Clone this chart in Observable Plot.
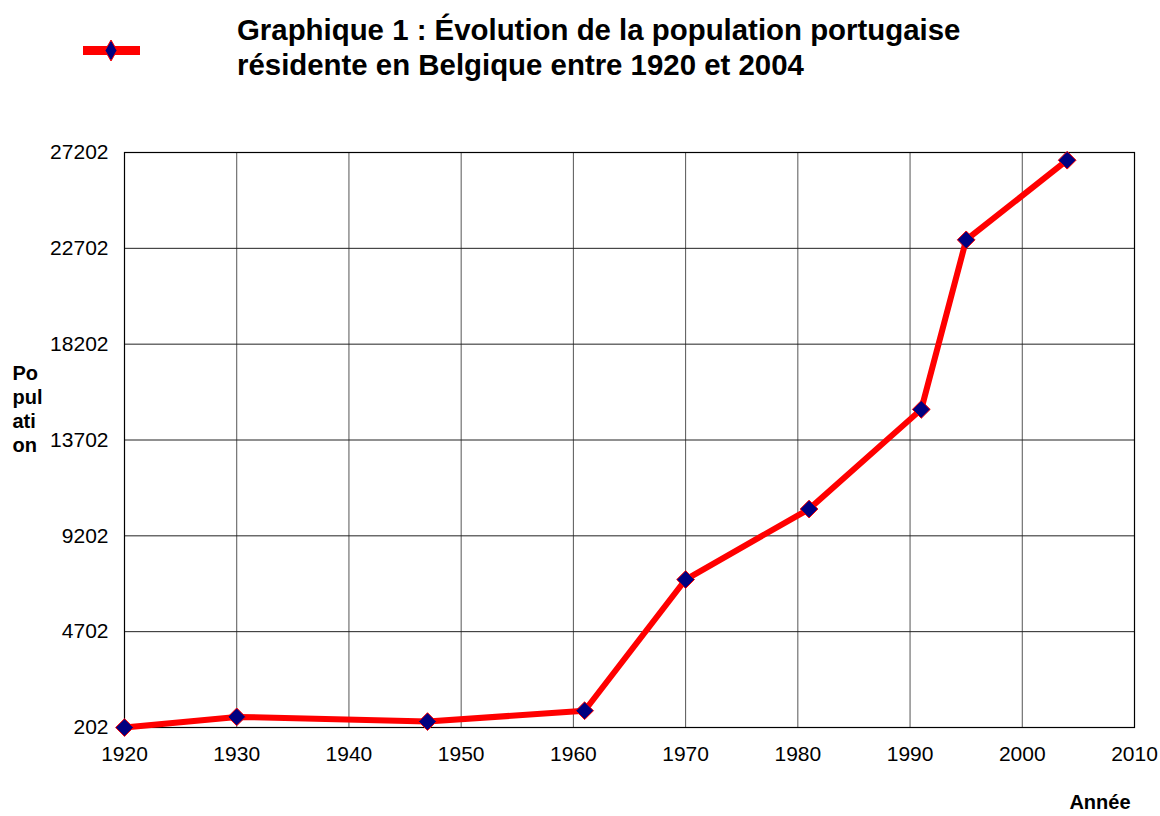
<!DOCTYPE html>
<html>
<head>
<meta charset="utf-8">
<script src="https://cdn.jsdelivr.net/npm/d3@7"></script>
<script src="https://cdn.jsdelivr.net/npm/@observablehq/plot@0.6"></script>
<style>
  html, body { margin: 0; padding: 0; background: #fff; }
  body { width: 1160px; height: 816px; overflow: hidden; font-family: "Liberation Sans", Arial, sans-serif; }
  #header { position: relative; width: 1160px; height: 100px; }
  #title { position: absolute; left: 237px; top: 12px; font-weight: bold; font-size: 29.4px; line-height: 35px; color: #000; white-space: nowrap; }
  #legend { position: absolute; left: 80px; top: 34px; }
</style>
</head>
<body>
<div id="header">
  <svg id="legend" width="64" height="34" viewBox="0 0 64 34">
    <rect x="3" y="12" width="57" height="9" fill="#ff0000"></rect>
    <path d="M31,6 L37,16.5 L31,27 L25,16.5 Z" fill="#000080" stroke="#ff0000" stroke-width="1"></path>
  </svg>
  <div id="title">Graphique 1 : Évolution de la population portugaise<br>résidente en Belgique entre 1920 et 2004</div>
</div>
<div id="chart"></div>
<script>
const years = [1920, 1930, 1947, 1961, 1970, 1981, 1991, 1995, 2004];
const population = [200, 700, 480, 990, 7150, 10460, 15140, 23100, 26840];
const yTicks = [202, 4702, 9202, 13702, 18202, 22702, 27202];
const xTicks = [1920, 1930, 1940, 1950, 1960, 1970, 1980, 1990, 2000, 2010];
const yLabel = "Po\npul\nati\non";
const xLabel = "Année";

const data = years.map((y, i) => ({year: y, pop: population[i]}));

const chart = Plot.plot({
  width: 1160,
  height: 716,
  marginTop: 52,
  marginLeft: 124,
  marginRight: 26,
  marginBottom: 89,
  style: {fontFamily: "'Liberation Sans', Arial, sans-serif", fontSize: "21px", color: "#000", background: "#fff"},
  x: {domain: [1920, 2010], ticks: xTicks, tickFormat: d => String(d)},
  y: {domain: [202, 27202], ticks: yTicks, tickFormat: d => String(d)},
  marks: [
    Plot.gridX(xTicks, {stroke: "#555", strokeOpacity: 1, strokeWidth: 1}),
    Plot.gridY(yTicks, {stroke: "#222", strokeOpacity: 1, strokeWidth: 1}),
    Plot.frame({stroke: "#000", strokeWidth: 1.2}),
    Plot.axisX(xTicks, {tickSize: 0, tickPadding: 19, label: null, fontSize: 21, tickFormat: d => String(d)}),
    Plot.axisY(yTicks, {tickSize: 0, tickPadding: 16, label: null, fontSize: 21, tickFormat: d => String(d)}),
    Plot.line(data, {x: "year", y: "pop", stroke: "#ff0000", strokeWidth: 6, strokeLinejoin: "miter"}),
    Plot.dot(data, {x: "year", y: "pop", symbol: "diamond2", r: 8, fill: "#000080", stroke: "#ff0000", strokeWidth: 1}),
    Plot.text([yLabel], {frameAnchor: "left", textAnchor: "start", dx: -112, dy: -32, fontWeight: "bold", fontSize: 20, lineHeight: 1.2, fill: "#000"}),
    Plot.text([xLabel], {frameAnchor: "bottom-right", textAnchor: "end", dx: -4, dy: 81, fontWeight: "bold", fontSize: 20, fill: "#000"})
  ]
});
document.getElementById("chart").appendChild(chart);
</script>
</body>
</html>
